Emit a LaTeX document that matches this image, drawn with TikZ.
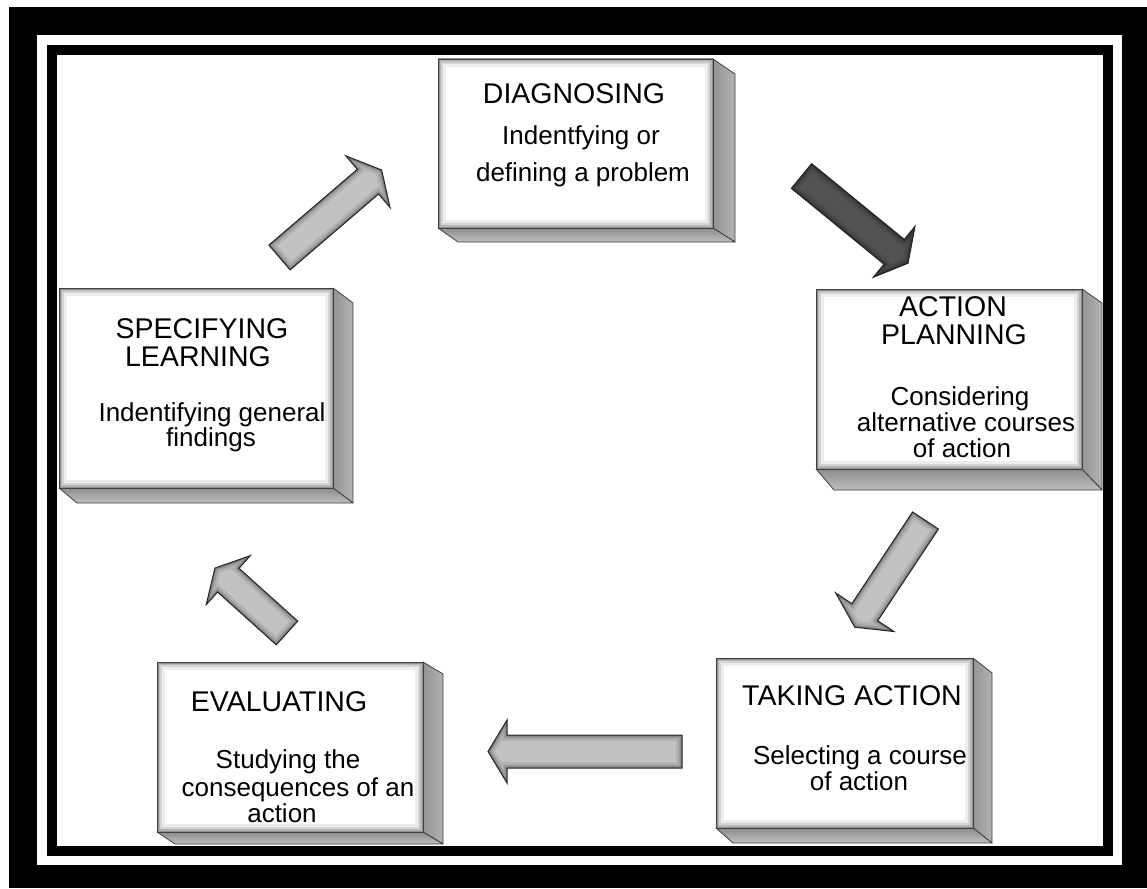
\documentclass[tikz,border=0pt]{standalone}
\usepackage{fontspec}
\setmainfont{Liberation Sans}
\tikzset{
  edgeline/.style={draw=black!75, line width=0.8pt, line join=round},
  ttl/.style={anchor=base, inner sep=0pt, font=\fontsize{28.5}{30}\selectfont},
  bdy/.style={anchor=base, inner sep=0pt, font=\fontsize{26}{28}\selectfont},
  arrowedge/.style={draw=black!85, line width=1pt, line join=miter},
  lightfill/.style={fill=black!24},
  darkfill/.style={fill=black!68},
}
% #1 name, #2 x1, #3 y1, #4 x2, #5 y2, #6 dx, #7 dy top, #8 dy bottom
\newcommand\threedbox[8]{%
  \path[edgeline, left color=black!42, right color=black!30]
    (#4,#3) -- (#4+#6,#3+#7) -- (#4+#6,#5+#8) -- (#4,#5) -- cycle;
  \path[edgeline, top color=black!45, bottom color=black!25]
    (#2,#5) -- (#4,#5) -- (#4+#6,#5+#8) -- (#2+#6-2,#5+#8) -- cycle;
  \fill[white] (#2,#3) rectangle (#4,#5);
  \begin{scope}
    \clip (#2,#3) rectangle (#4,#5);
    \foreach \w/\o in {16/0.07,10/0.1,6/0.14,3/0.22}
      \draw[line width=\w pt, black, opacity=\o] (#2,#3) rectangle (#4,#5);
  \end{scope}
  \node[edgeline, inner sep=0pt, minimum width={(#4-#2)*1pt}, minimum height={(#5-#3)*1pt}]
    (#1) at ({(#2+#4)/2},{(#3+#5)/2}) {};
}
% #1 tail x, #2 tail y, #3 angle, #4 length, #5 shaft width, #6 head width, #7 head length, #8 fill style
\newcommand\blockarrow[8]{%
  \begin{scope}[shift={(#1,#2)}, rotate=#3]
    \def\arrpath{(0,#5/2) -- (#4-#7,#5/2) -- (#4-#7,#6/2) -- (#4,0) -- (#4-#7,-#6/2) -- (#4-#7,-#5/2) -- (0,-#5/2) -- cycle}
    \fill[#8] \arrpath;
    \begin{scope}
      \clip \arrpath;
      \foreach \w/\o in {12/0.08,7/0.12,3/0.22}
        \draw[line width=\w pt, black, opacity=\o] \arrpath;
    \end{scope}
    \draw[arrowedge] \arrpath;
  \end{scope}
}
\begin{document}
\begin{tikzpicture}[x=1pt, y=-1pt]
\useasboundingbox (0,0) rectangle (1147,888);
% frame
\fill[white] (0,0) rectangle (1147,888);
\fill[black] (9,7) rectangle (1147,888);
\fill[white] (37,35) rectangle (1122,865);
\fill[black] (47,45) rectangle (1113,856);
\fill[white] (57,55) rectangle (1103,846);

% boxes
\threedbox{dg}{438}{59}{713}{228}{22}{15}{14}
\threedbox{ap}{816}{289}{1082}{469}{20}{14}{21}
\threedbox{ta}{716}{658}{973}{828}{19}{15}{15}
\threedbox{ev}{157}{662}{423}{832}{20}{12}{12}
\threedbox{sl}{59}{288}{333}{488}{20}{15}{15}

% texts
\node[ttl] (dgT) at (574,103.3) {DIAGNOSING};
\node[bdy] (dgA) at (581,144) {Indentfying or};
\node[bdy] (dgB) at (583,181) {defining a problem};

\node[ttl] (apT) at (953,316.7) {ACTION};
\node[ttl] (apU) at (954,344) {PLANNING};
\node[bdy] (apA) at (960,405) {Considering};
\node[bdy] (apB) at (966,431) {alternative courses};
\node[bdy] (apC) at (962,457) {of action};

\node[ttl] (taT) at (852,705.7) {TAKING ACTION};
\node[bdy] (taA) at (860,764) {Selecting a course};
\node[bdy] (taB) at (859,790) {of action};

\node[ttl] (evT) at (279,711) {EVALUATING};
\node[bdy] (evA) at (288,768.3) {Studying the};
\node[bdy] (evB) at (298,796.7) {consequences of an};
\node[bdy] (evC) at (282,822.7) {action};

\node[ttl] (slT) at (202,338.3) {SPECIFYING};
\node[ttl] (slU) at (198,366.7) {LEARNING};
\node[bdy] (slA) at (212,421.7) {Indentifying general};
\node[bdy] (slB) at (211,446.7) {findings};

% arrows
\blockarrow{801.5}{176}{-39.3}{137.7}{32}{66}{18}{darkfill}
\blockarrow{925.5}{520.5}{236.5}{128}{31}{70}{18}{lightfill}
\blockarrow{682}{751.5}{180}{194}{33}{63}{19}{lightfill}
\blockarrow{287}{633}{138}{97}{32}{66}{18}{lightfill}
\blockarrow{279.5}{257.5}{40.6}{134.5}{32.6}{68}{18}{lightfill}
\end{tikzpicture}
\end{document}
